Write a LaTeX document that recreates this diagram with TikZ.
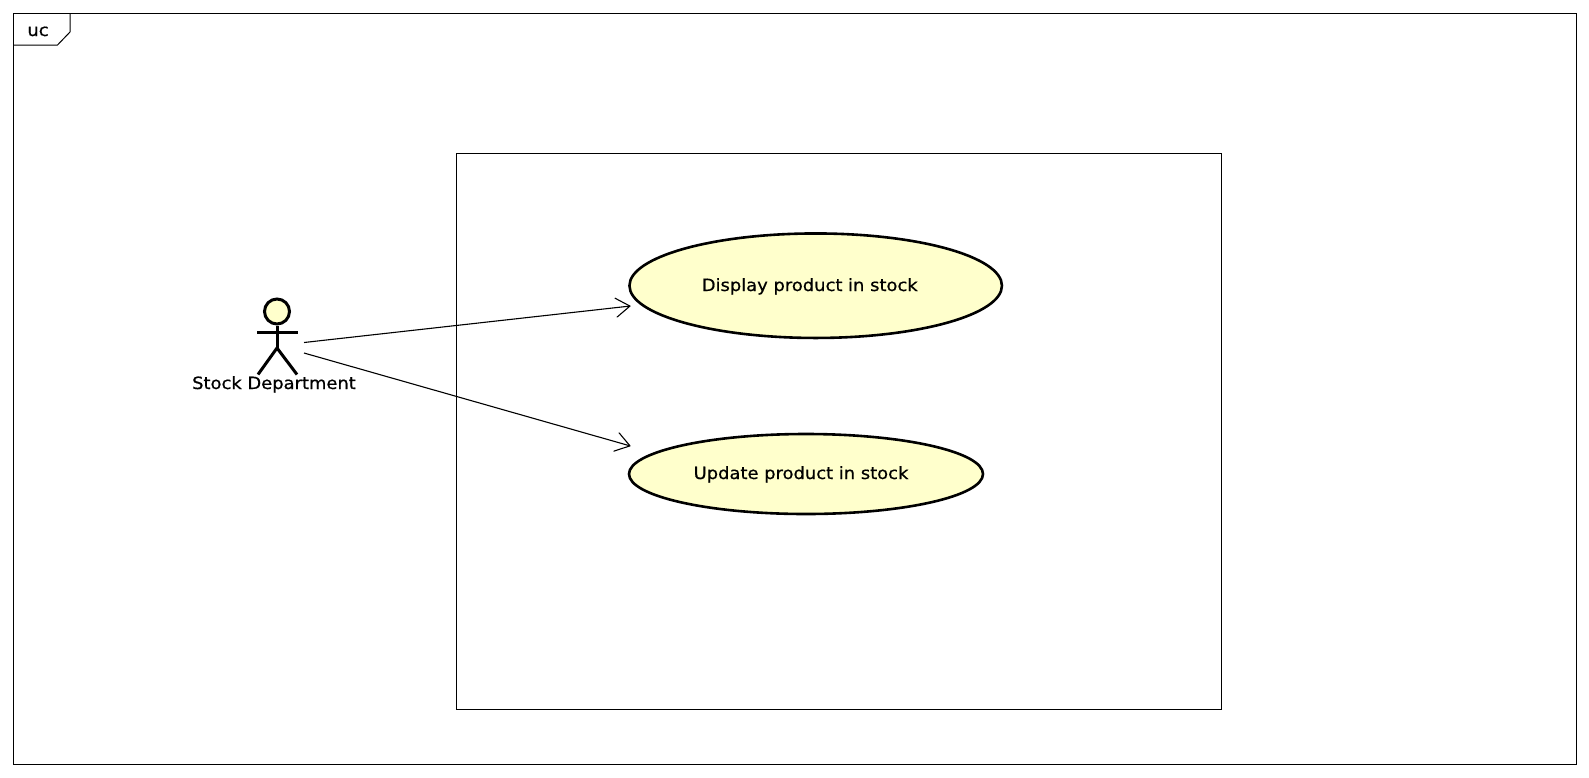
\documentclass[tikz,border=0pt]{standalone}
\usepackage{fontspec}
\setmainfont[FakeStretch=1.06,FakeBold=0.7]{DejaVu Sans}
\usetikzlibrary{shapes.geometric,arrows.meta}
\definecolor{ucfill}{HTML}{FFFFCC}
\tikzset{
  frameline/.style={draw=black,line width=1pt},
  usecase/.style={ellipse,draw=black,fill=ucfill,line width=2.6pt,inner sep=0pt,outer sep=0pt},
  actorline/.style={draw=black,line width=3pt},
  assoc/.style={draw=black,line width=1.1pt,-{Straight Barb[length=14pt,width=19pt,line width=1.1pt,round]}},
  lbl/.style={font=\fontsize{16.9}{18}\selectfont,text=black,inner sep=0pt,anchor=base}
}
\begin{document}
\begin{tikzpicture}[x=1pt,y=-1pt]
\useasboundingbox (0,0) rectangle (1589,777);
\fill[white] (0,0) rectangle (1589,777);
\node[frameline,rectangle,minimum width=1563pt,minimum height=751pt,inner sep=0pt,anchor=north west] (frame) at (13,13) {};
\draw[frameline] (70,13) -- (70,32) -- (57.5,45) -- (13,45);
\node[lbl] (frametitle) at (38,36) {uc};
\node[frameline,rectangle,minimum width=765pt,minimum height=556pt,inner sep=0pt,anchor=north west] (boundary) at (456,152.8) {};
\node[usecase,minimum width=372.5pt,minimum height=104.5pt] (uc1) at (815.7,285.7) {};
\node[lbl] (uc1t) at (809.7,291) {Display product in stock};
\node[usecase,minimum width=354pt,minimum height=80pt] (uc2) at (806,474) {};
\node[lbl] (uc2t) at (801,479) {Update product in stock};
% actor
\node[circle,draw=black,fill=ucfill,line width=3pt,minimum size=25pt,inner sep=0pt] (head) at (277,311.5) {};
\coordinate (arml) at (257,332);
\coordinate (armr) at (298,332);
\coordinate (hip) at (277,348);
\coordinate (legl) at (258,374.5);
\coordinate (legr) at (297,374.5);
\draw[actorline] (head.south) -- (hip);
\draw[actorline] (arml) -- (armr);
\draw[actorline,line join=miter] (legl) -- (hip) -- (legr);
\node[lbl] (actor) at (274,389) {Stock Department};
\coordinate (s1) at (304,342.5);
\coordinate (s2) at (304,353);
\coordinate (t1) at (630.5,306);
\coordinate (t2) at (630.5,446);
\draw[assoc] (s1) -- (t1);
\draw[assoc] (s2) -- (t2);
\end{tikzpicture}
\end{document}
